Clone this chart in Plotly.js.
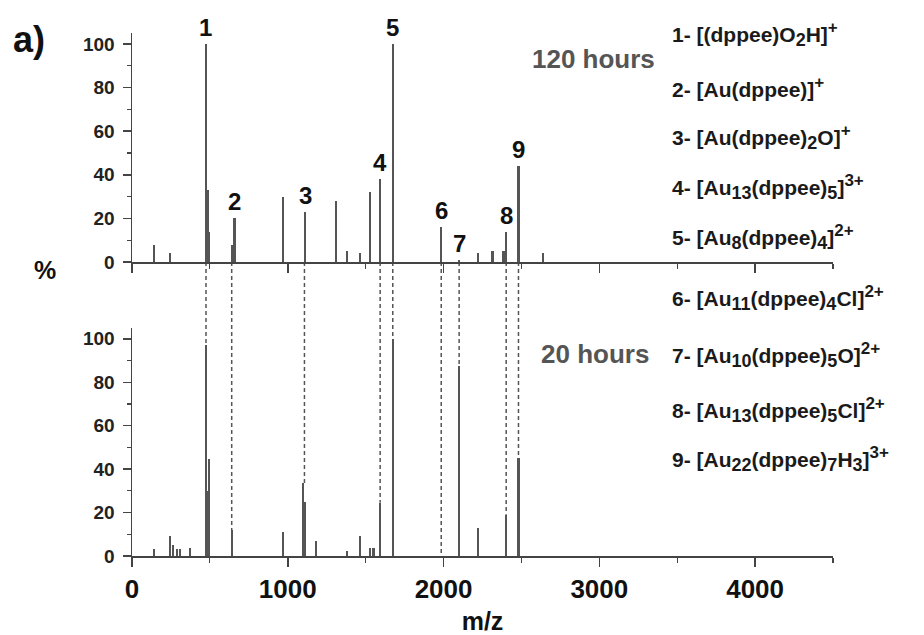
<!DOCTYPE html>
<html>
<head>
<meta charset="utf-8">
<script src="https://cdn.plot.ly/plotly-3.0.1.min.js"></script>
<style>html,body{margin:0;padding:0;background:#fff;}</style>
</head>
<body>
<div id="chart" style="width:924px;height:635px;"></div>
<script>
// 120 hours spectrum (top panel)
const mz120 = [143, 244, 475, 484, 495, 640, 657, 968, 1111, 1310, 1379, 1464, 1529, 1593, 1674, 1985, 2100, 2220, 2314, 2385, 2402, 2481, 2638];
const int120 = [8, 4, 100, 33, 14, 8, 20, 30, 23, 28, 5, 4, 32, 38, 100, 16, 1, 4, 5, 5, 14, 44, 4];
// 20 hours spectrum (bottom panel)
const mz20 = [143, 244, 265, 287, 308, 372, 475, 484, 495, 640, 968, 1096, 1107, 1182, 1379, 1464, 1529, 1550, 1593, 1674, 2100, 2220, 2402, 2481];
const int20 = [3, 9, 5, 3, 3, 3.5, 97, 30, 44.5, 12, 11, 33.6, 25, 7, 2.4, 9, 3.5, 3.5, 24.5, 100, 87.6, 13, 19, 45];
// numbered peak labels (top panel)
const peakNames = ["1", "2", "3", "4", "5", "6", "7", "8", "9"];
const peakMz = [475, 657, 1111, 1593, 1674, 1985, 2102, 2402, 2481];
const peakInt = [100, 20, 23, 38, 100, 16, 1, 14, 44];
// dashed correlation lines: m/z and intensity reached in the 20 h spectrum
const dashMz = [475, 640, 1107, 1593, 1674, 1985, 2100, 2402, 2481];
const dashEnd20 = [97, 12, 33.6, 24.5, 100, 0, 87.6, 19, 45];
// assignments
const S = t => '<sub><span style="font-size:18px">' + t + '</span></sub>';
const P = t => '<sup><span style="font-size:17px">' + t + '</span></sup>';
const assignments = [
  "1- [(dppee)O" + S("2") + "H]" + P("+"),
  "2- [Au(dppee)]" + P("+"),
  "3- [Au(dppee)" + S("2") + "O]" + P("+"),
  "4- [Au" + S("13") + "(dppee)" + S("5") + "]" + P("3+"),
  "5- [Au" + S("8") + "(dppee)" + S("4") + "]" + P("2+"),
  "6- [Au" + S("11") + "(dppee)" + S("4") + "Cl]" + P("2+"),
  "7- [Au" + S("10") + "(dppee)" + S("5") + "O]" + P("2+"),
  "8- [Au" + S("13") + "(dppee)" + S("5") + "Cl]" + P("2+"),
  "9- [Au" + S("22") + "(dppee)" + S("7") + "H" + S("3") + "]" + P("3+")
];
const assignYpx = [34, 87, 137, 187, 237, 298, 355, 410, 459];

const FONT = '"Liberation Sans", Arial, Helvetica, sans-serif';
const LINE = '#444';
const BAR = '#555';
const yRange = [0, 105];
const botDom = [0, 0.436];
const topDom = [0.562, 1];
const W = 924, H = 635, M = {l: 132, r: 91, t: 33, b: 79};
const plotH = H - M.t - M.b, plotW = W - M.l - M.r;
const pyPaper = px => (H - M.b - px) / plotH;
const pxPaper = px => (px - M.l) / plotW;

const traces = [
  {type: 'bar', x: mz120, y: int120, xaxis: 'x2', yaxis: 'y2', width: 15,
   marker: {color: BAR, line: {width: 0}}, hoverinfo: 'x+y', showlegend: false},
  {type: 'bar', x: mz20, y: int20, xaxis: 'x', yaxis: 'y', width: 15,
   marker: {color: BAR, line: {width: 0}}, hoverinfo: 'x+y', showlegend: false}
];

const xCommon = {
  range: [0, 4500], tick0: 0, dtick: 1000, ticks: 'outside', ticklen: 9, tickwidth: 1.5,
  tickcolor: LINE, showline: true, linecolor: LINE, linewidth: 1.5, showgrid: false, zeroline: false,
  minor: {dtick: 500, tick0: 0, ticks: 'outside', ticklen: 5, tickwidth: 1.2, tickcolor: LINE, showgrid: false}
};
const yCommon = {
  range: yRange, tick0: 0, dtick: 20, ticks: 'outside', ticklen: 8, tickwidth: 1.5,
  tickcolor: LINE, showline: true, linecolor: LINE, linewidth: 1.5, showgrid: false, zeroline: false,
  ticklabelstandoff: 4,
  tickfont: {family: FONT, size: 19, color: '#222', weight: 'bold'},
  minor: {dtick: 10, tick0: 0, ticks: 'outside', ticklen: 4, tickwidth: 1.2, tickcolor: LINE, showgrid: false}
};

const shapes = dashMz.map((m, i) => ({
  type: 'line', xref: 'x', yref: 'paper', x0: m, x1: m,
  y0: topDom[0],
  y1: botDom[0] + (dashEnd20[i] - yRange[0]) / (yRange[1] - yRange[0]) * (botDom[1] - botDom[0]),
  line: {color: BAR, width: 1.5, dash: '4px,3px'}, layer: 'below'
}));

const annotations = [];
peakNames.forEach((n, i) => annotations.push({
  text: n, x: peakMz[i], y: peakInt[i], xref: 'x2', yref: 'y2', xanchor: 'center', yanchor: 'bottom',
  yshift: 1, showarrow: false, font: {family: FONT, size: 24, color: '#111', weight: 'bold'}
}));
assignments.forEach((t, i) => annotations.push({
  text: t, xref: 'paper', yref: 'paper', x: pxPaper(670), y: pyPaper(assignYpx[i]),
  xanchor: 'left', yanchor: 'middle', showarrow: false, align: 'left',
  font: {family: FONT, size: 21, color: '#1a1a1a', weight: 'bold'}
}));
annotations.push({text: '120 hours', xref: 'paper', yref: 'paper', x: pxPaper(657), y: pyPaper(59),
  xanchor: 'right', yanchor: 'middle', showarrow: false, font: {family: FONT, size: 26, color: '#555', weight: 'bold'}});
annotations.push({text: '20 hours', xref: 'paper', yref: 'paper', x: pxPaper(651), y: pyPaper(354),
  xanchor: 'right', yanchor: 'middle', showarrow: false, font: {family: FONT, size: 26, color: '#555', weight: 'bold'}});
annotations.push({text: '%', xref: 'paper', yref: 'paper', x: pxPaper(45), y: pyPaper(270),
  xanchor: 'center', yanchor: 'middle', showarrow: false, font: {family: FONT, size: 25, color: '#111', weight: 'bold'}});
annotations.push({text: 'a)', xref: 'paper', yref: 'paper', x: pxPaper(11), y: pyPaper(40),
  xanchor: 'left', yanchor: 'middle', showarrow: false, font: {family: FONT, size: 36, color: '#111', weight: 'bold'}});

const layout = {
  width: W, height: H, margin: M, paper_bgcolor: '#fff', plot_bgcolor: 'rgba(0,0,0,0)',
  showlegend: false, bargap: 0, barmode: 'overlay',
  font: {family: FONT, color: '#222'},
  xaxis: Object.assign({}, xCommon, {anchor: 'y',
    tickfont: {family: FONT, size: 26, color: '#111', weight: 'bold'},
    title: {text: 'm/z', font: {family: FONT, size: 25, color: '#111', weight: 'bold'}, standoff: 12}}),
  xaxis2: Object.assign({}, xCommon, {anchor: 'y2', matches: 'x', showticklabels: false}),
  yaxis: Object.assign({}, yCommon, {domain: botDom, anchor: 'x'}),
  yaxis2: Object.assign({}, yCommon, {domain: topDom, anchor: 'x2'}),
  shapes: shapes,
  annotations: annotations
};

Plotly.newPlot('chart', traces, layout, {displayModeBar: false, staticPlot: true});
</script>
</body>
</html>
